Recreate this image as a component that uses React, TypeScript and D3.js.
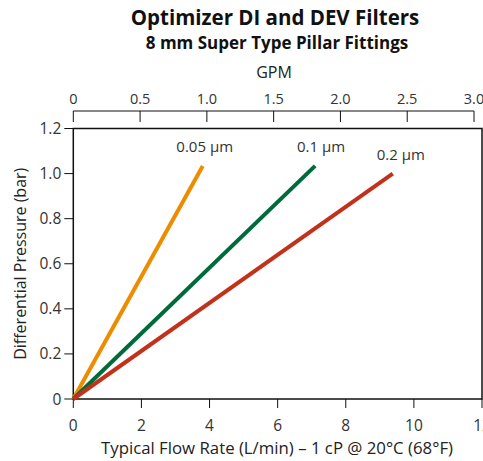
import React from "react";
import * as d3 from "d3";

const seriesNames = ["0.05 µm", "0.1 µm", "0.2 µm"];
const seriesColors = ["#EE8C00", "#006B3A", "#C2321B"];
// each series: straight line from origin to endpoint (L/min, bar)
const endFlow = [3.8, 7.1, 9.38];
const endPressure = [1.034, 1.034, 1.0];
const xTicks = [0, 2, 4, 6, 8, 10, 12];
const yTicks = [0, 0.2, 0.4, 0.6, 0.8, 1.0, 1.2];
const gpmTicks = [0, 0.5, 1.0, 1.5, 2.0, 2.5, 3.0];
const labelOffsets = [
  [2, -14],
  [6, -14],
  [8, -14],
];

const W = 483;
const H = 461;
const FONT = "'Open Sans', 'Noto Sans', sans-serif";

export default function App() {
  const left = 73.3;
  const right = 482;
  const top = 128.5;
  const bottom = 399;
  const x = d3.scaleLinear().domain([0, 12]).range([left, right]);
  const y = d3.scaleLinear().domain([0, 1.2]).range([bottom, top]);
  const xg = d3.scaleLinear().domain([0, 3]).range([73.3, 474]);
  const gpmLineY = 111;
  const line = d3
    .line<[number, number]>()
    .x((d) => x(d[0]))
    .y((d) => y(d[1]));

  const fmtY = (v: number) => (v === 0 ? "0" : v.toFixed(1));
  const fmtG = (v: number) => (v === 0 ? "0" : v.toFixed(1));

  return (
    <svg
      width={W}
      height={H}
      style={{ position: "absolute", left: 0, top: 0, display: "block", background: "#fff" }}
      fontFamily={FONT}
    >
      <text x={275} y={25} textAnchor="middle" fontSize={20.5} fontWeight="bold" fill="#111">
        Optimizer DI and DEV Filters
      </text>
      <text x={277} y={49} textAnchor="middle" fontSize={17} fontWeight="bold" fill="#111">
        8 mm Super Type Pillar Fittings
      </text>
      <text x={274} y={78} textAnchor="middle" fontSize={16} fill="#222">
        GPM
      </text>

      {/* GPM axis */}
      <line x1={xg(0)} x2={xg(3)} y1={gpmLineY} y2={gpmLineY} stroke="#111" strokeWidth={1} />
      {gpmTicks.map((t) => (
        <g key={"g" + t}>
          <line x1={xg(t)} x2={xg(t)} y1={gpmLineY} y2={gpmLineY + 11} stroke="#111" strokeWidth={1} />
          <text x={xg(t)} y={103.5} textAnchor="middle" fontSize={14.5} fill="#333">
            {fmtG(t)}
          </text>
        </g>
      ))}

      {/* plot frame */}
      <rect x={left} y={top} width={right - left} height={bottom - top} fill="none" stroke="#111" strokeWidth={1.5} />

      {/* y axis */}
      {yTicks.map((t) => (
        <g key={"y" + t}>
          <line x1={left - 9} x2={left} y1={y(t)} y2={y(t)} stroke="#111" strokeWidth={1} />
          <text x={left - 12} y={y(t) + 5.5} textAnchor="end" fontSize={15.5} fill="#333">
            {fmtY(t)}
          </text>
        </g>
      ))}
      <text
        transform={`translate(26, ${(top + bottom) / 2}) rotate(-90)`}
        textAnchor="middle"
        fontSize={16}
        fill="#222"
      >
        Differential Pressure (bar)
      </text>

      {/* x axis */}
      {xTicks.map((t) => (
        <g key={"x" + t}>
          <line x1={x(t)} x2={x(t)} y1={bottom} y2={bottom + 9} stroke="#111" strokeWidth={1} />
          <text x={x(t)} y={431} textAnchor="middle" fontSize={15.5} fill="#333">
            {t}
          </text>
        </g>
      ))}
      <text x={277} y={454} textAnchor="middle" fontSize={16.8} fill="#222">
        Typical Flow Rate (L/min) – 1 cP @ 20°C (68°F)
      </text>

      {/* series */}
      {seriesNames.map((name, i) => {
        const pts: [number, number][] = [
          [0, 0],
          [endFlow[i], endPressure[i]],
        ];
        return (
          <g key={name}>
            <path d={line(pts) || ""} fill="none" stroke={seriesColors[i]} strokeWidth={4} />
            <text
              x={x(endFlow[i]) + labelOffsets[i][0]}
              y={y(endPressure[i]) + labelOffsets[i][1]}
              textAnchor="middle"
              fontSize={15}
              fill="#333"
            >
              {name}
            </text>
          </g>
        );
      })}
    </svg>
  );
}
